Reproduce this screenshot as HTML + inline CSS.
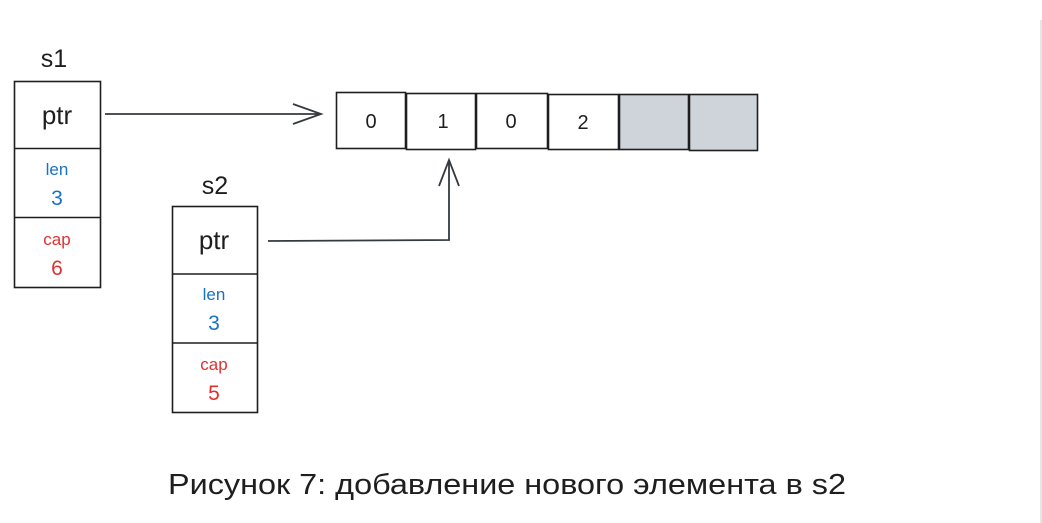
<!DOCTYPE html>
<html><head><meta charset="utf-8"><style>
html,body{margin:0;padding:0;background:#fff;}
svg{display:block;}
text{font-family:"Liberation Sans","DejaVu Sans",sans-serif;}
</style></head><body>
<svg width="1042" height="523" viewBox="0 0 1042 523" xmlns="http://www.w3.org/2000/svg">
<rect width="1042" height="523" fill="#fff"/>
<line x1="1041" y1="20" x2="1041" y2="523" stroke="#e6e6e6" stroke-width="2"/>
<g fill="none" stroke="#1e1e1e" stroke-width="1.6">
 <rect x="14.5" y="81.5" width="86" height="206"/>
 <line x1="14.5" y1="148.5" x2="100.5" y2="148.5"/>
 <line x1="14.5" y1="217.5" x2="100.5" y2="217.5"/>
 <rect x="172.5" y="206.5" width="85" height="206"/>
 <line x1="172.5" y1="274" x2="257.5" y2="274"/>
 <line x1="172.5" y1="343" x2="257.5" y2="343"/>
 <path d="M105 114 L321 114 M293 104 L321 114 L293 124" stroke="#343a40" stroke-width="1.8"/>
 <path d="M268 241 L449 240 L449 160 M439 186 L449 160 L459 186" stroke="#343a40" stroke-width="1.8"/>
</g>
<g stroke="#1e1e1e" stroke-width="1.6">
 <rect x="336.5" y="92.5" width="69" height="56" fill="#fff"/>
 <rect x="406.5" y="93.5" width="69" height="56" fill="#fff"/>
 <rect x="476.5" y="93.5" width="71" height="55" fill="#fff"/>
 <rect x="548.5" y="94.5" width="70" height="55" fill="#fff"/>
 <rect x="619.5" y="94.5" width="69" height="55" fill="#ced4da"/>
 <rect x="689.5" y="94.5" width="68" height="56" fill="#ced4da"/>
</g>
<g fill="#1e1e1e" font-size="20" text-anchor="middle">
 <text x="371" y="128">0</text>
 <text x="443" y="128">1</text>
 <text x="511" y="128">0</text>
 <text x="583" y="129">2</text>
</g>
<g text-anchor="middle">
 <text x="54" y="67" font-size="25" fill="#1e1e1e">s1</text>
 <text x="57" y="124" font-size="26" fill="#1e1e1e">ptr</text>
 <text x="57" y="175" font-size="17" fill="#1971c2">len</text>
 <text x="57" y="205" font-size="21" fill="#1971c2">3</text>
 <text x="57" y="245" font-size="17" fill="#e03131">cap</text>
 <text x="57" y="275" font-size="21" fill="#e03131">6</text>

 <text x="215" y="194" font-size="25" fill="#1e1e1e">s2</text>
 <text x="214" y="249" font-size="26" fill="#1e1e1e">ptr</text>
 <text x="214" y="300" font-size="17" fill="#1971c2">len</text>
 <text x="214" y="330" font-size="21" fill="#1971c2">3</text>
 <text x="214" y="370" font-size="17" fill="#e03131">cap</text>
 <text x="214" y="400" font-size="21" fill="#e03131">5</text>

 <text x="507" y="494" font-size="29" fill="#1e1e1e" textLength="678" lengthAdjust="spacingAndGlyphs">Рисунок 7: добавление нового элемента в s2</text>
</g>
</svg>
</body></html>
